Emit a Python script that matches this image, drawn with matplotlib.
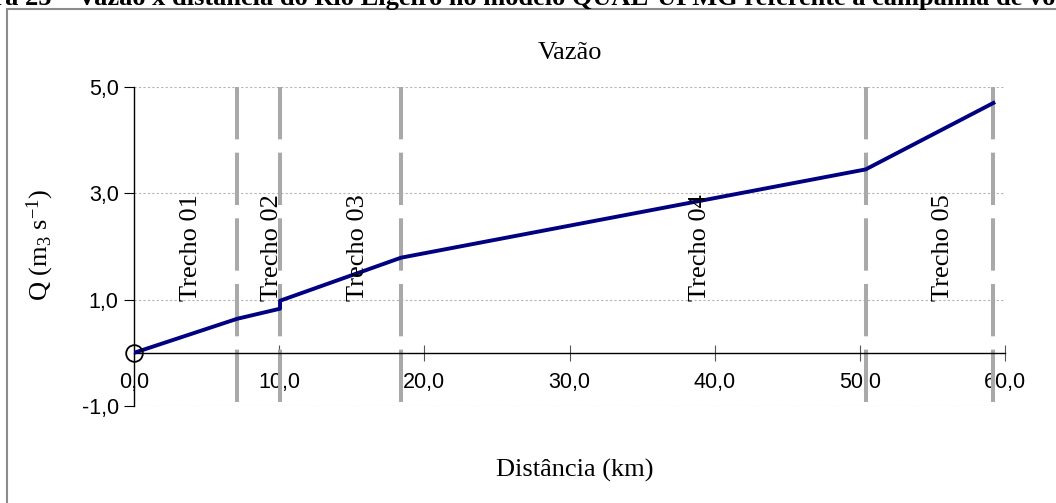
import numpy as np
import matplotlib

matplotlib.use("Agg")
import matplotlib.pyplot as plt
from matplotlib.patches import Rectangle

# data
distance_km = [0.0, 7.1, 10.06, 10.06, 18.4, 50.4, 59.2]
flow_m3s = [0.0, 0.64, 0.83, 0.98, 1.79, 3.45, 4.70]
reach_limits = [7.1, 10.06, 18.4, 50.4, 59.2]
reach_names = ["Trecho 01", "Trecho 02", "Trecho 03", "Trecho 04", "Trecho 05"]
reach_label_x = [3.9, 9.5, 15.4, 39.0, 55.7]
x_ticks = [0, 10, 20, 30, 40, 50, 60]
y_ticks = [-1, 1, 3, 5]

serif = "Liberation Serif"
sans = "Liberation Sans"
plt.rcParams["mathtext.fontset"] = "custom"
plt.rcParams["mathtext.rm"] = serif
plt.rcParams["mathtext.it"] = serif + ":italic"

W, H = 1056, 503
fig = plt.figure(figsize=(W / 100, H / 100), dpi=100)

# outer frame of the chart (cut by the screenshot on right and bottom)
fig.patches.append(
    Rectangle((7 / W, -0.1), 1.2, 1 - 9 / H + 0.1, transform=fig.transFigure,
              fill=False, edgecolor="#8c8c8c", linewidth=1.5)
)

# caption above the chart, cut at the top of the screenshot
fig.text(-58 / W, 1 - 5 / H,
         "Figura 25 – Vazão x distância do Rio Ligeiro no modelo QUAL-UFMG "
         "referente à campanha de vo",
         family=serif, fontweight="bold", fontsize=19, va="baseline", ha="left")

ax = fig.add_axes([134 / W, 1 - 406 / H, (1005 - 134) / W, (406 - 87) / H])
ax.set_xlim(0, 60)
ax.set_ylim(-1, 5)

# grid
for y in y_ticks:
    ax.axhline(y, color="#b4b4b4", linewidth=0.8, linestyle=(0, (2, 2)), zorder=1)

# reach limits
for x in reach_limits:
    ax.plot([x, x], [5, -1], color="#a9a9a9", linewidth=2.9,
            linestyle=(0, (13, 3.3)), zorder=2)

ax.plot(distance_km, flow_m3s, color="#000080", linewidth=2.8, zorder=3)
ax.plot([distance_km[0]], [flow_m3s[0]], marker="o", markersize=12,
        markerfacecolor="none", markeredgecolor="black", markeredgewidth=1.3,
        linestyle="none", zorder=4, clip_on=False)

for name, x in zip(reach_names, reach_label_x):
    ax.text(x, 0.97, name, rotation=90, ha="center", va="bottom",
            family=serif, fontsize=19, zorder=5)

# axes styling
for side in ["top", "right"]:
    ax.spines[side].set_visible(False)
ax.spines["bottom"].set_position(("data", 0))
ax.spines["bottom"].set_bounds(0, 60)
ax.spines["left"].set_bounds(-1, 5)
ax.spines["left"].set_linewidth(1)
ax.spines["bottom"].set_linewidth(1)

ax.set_xticks(x_ticks)
ax.set_xticklabels([f"{v:.1f}".replace(".", ",") for v in x_ticks],
                   family=sans, fontsize=15.5)
ax.set_yticks(y_ticks)
ax.set_yticklabels([f"{v:.1f}".replace(".", ",") for v in y_ticks],
                   family=sans, fontsize=15.5)
ax.tick_params(axis="x", direction="inout", length=11, width=0.8, pad=8,
               color="#555555")
ax.tick_params(axis="y", direction="out", length=7, width=0.8, pad=4)

ax.set_title("Vazão", family=serif, fontsize=19, pad=20)
fig.text(40 / W, 1 - 245 / H, r"Q (m$_\mathrm{3}$ s$^{\mathrm{-1}}$)",
         rotation=90, family=serif, fontsize=19, ha="center", va="center")
fig.text(575 / W, 1 - 470 / H, "Distância (km)", family=serif, fontsize=19,
         ha="center", va="center")

fig.savefig("out.png", dpi=100)
